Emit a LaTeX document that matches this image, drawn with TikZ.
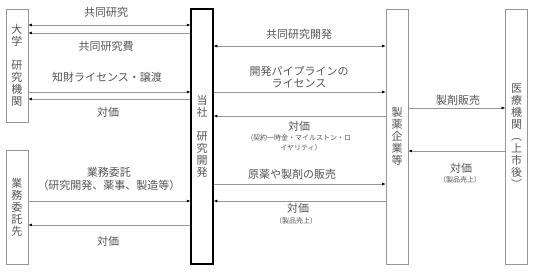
\documentclass[tikz,border=0pt]{standalone}
\usepackage{fontspec}
\setmainfont{Noto Sans CJK JP}
\usepackage{tikz}
\usetikzlibrary{arrows.meta,positioning}
\usepackage{xcolor}
\definecolor{txtgray}{RGB}{85,85,85}
\definecolor{linegray}{RGB}{150,150,150}

\begin{document}
\begin{tikzpicture}[x=1pt,y=-1pt,font=\fontsize{11}{12}\selectfont,text=txtgray,
  party/.style={draw=linegray,line width=0.8pt,minimum width=22pt,inner sep=0pt,align=center},
  flow/.style={draw=linegray,line width=0.5pt,-{Latex[length=3.5pt,width=3pt,color=black]}},
  both/.style={flow,{Latex[length=3.5pt,width=3pt,color=black]}-{Latex[length=3.5pt,width=3pt,color=black]}},
  pay/.style={flow,line width=0.9pt},
  note/.style={font=\fontsize{7}{10}\selectfont,align=center}]
\useasboundingbox (0,0) rectangle (533,271);
% parties
\node[party,minimum height=113pt] (univ) at (17,65.5) {大\\学\\[12pt]研\\究\\機\\関};
\node[party,minimum height=114pt] (itaku) at (17,207) {業\\務\\委\\託\\先};
\node[party,draw=black,line width=1.5pt,minimum height=255pt] (tosha) at (202,136.5) {当\\社\\[12pt]研\\究\\開\\発};
\node[party,minimum height=255pt] (seiyaku) at (397,136.5) {製\\薬\\企\\業\\等};
\node[party,minimum height=255pt] (iryo) at (516.5,136.5) {医\\療\\機\\関\\︵\\上\\市\\後\\︶};
% labels
\node (kyodo) at (106,12) {共同研究};
\node (kyodohi) at (106,46) {共同研究費};
\node (chizai) at (107,77) {知財ライセンス・譲渡};
\node (taika1) at (108,112) {対価};
\node[align=center,font=\fontsize{11}{13}\selectfont] (gyomu) at (109,178.5) {業務委託\\（研究開発、薬事、製造等）};
\node (taika2) at (108,241) {対価};
\node (kaihatsu) at (299,34) {共同研究開発};
\node[align=center] (pipe) at (299,77) {開発パイプラインの\\ライセンス};
\node (taika3) at (299,126) {対価};
\node[note] (keiyaku) at (301,143) {(契約一時金・マイルストン・ロ\\イヤリティ）};
\node (hanbai) at (292,174) {原薬や製剤の販売};
\node (taika4) at (298,208) {対価};
\node[note] (uriage1) at (296,221) {（製品売上）};
\node (seizai) at (458,100) {製剤販売};
\node (taika5) at (461,168) {対価};
\node[note] (uriage2) at (460,180) {（製品売上）};
% flows
\draw[both] (univ.east |- 0,25) -- (tosha.west |- 0,25);
\draw[flow] (tosha.west |- 0,33) -- (univ.east |- 0,33);
\draw[flow] (univ.east |- 0,92) -- (tosha.west |- 0,92);
\draw[flow] (tosha.west |- 0,99) -- (univ.east |- 0,99);
\draw[flow] (itaku.east |- 0,201) -- (tosha.west |- 0,201);
\draw[flow] (tosha.west |- 0,225) -- (itaku.east |- 0,225);
\draw[both] (tosha.east |- 0,46) -- (seiyaku.west |- 0,46);
\draw[flow] (tosha.east |- 0,92) -- (seiyaku.west |- 0,92);
\draw[pay] (seiyaku.west |- 0,116) -- (tosha.east |- 0,116);
\draw[flow] (tosha.east |- 0,184) -- (seiyaku.west |- 0,184);
\draw[pay] (seiyaku.west |- 0,201) -- (tosha.east |- 0,201);
\draw[flow] (seiyaku.east |- 0,108) -- (iryo.west |- 0,108);
\draw[pay] (iryo.west |- 0,151) -- (seiyaku.east |- 0,151);
\end{tikzpicture}
\end{document}
